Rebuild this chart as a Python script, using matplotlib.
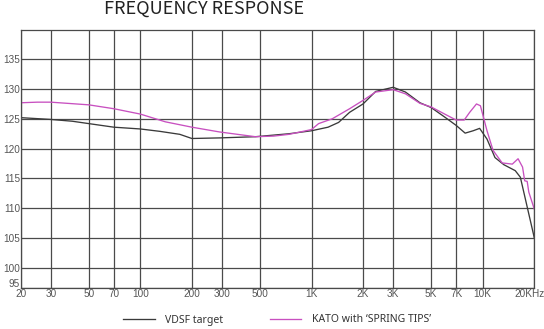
import matplotlib
matplotlib.use("Agg")
import matplotlib.pyplot as plt
from matplotlib.transforms import ScaledTranslation

# ---- data ----
vdsf_freq = [20, 30, 40, 50, 70, 100, 130, 170, 200, 290, 470, 740, 1000, 1250, 1440, 1670,
             2000, 2370, 3000, 3540, 4300, 5000, 6000, 7000, 7900, 8800, 9600, 10600,
             11800, 13300, 15500, 16600, 20000]
vdsf_db = [125.2, 124.9, 124.6, 124.2, 123.6, 123.3, 122.9, 122.4, 121.7, 121.8, 122.0, 122.5,
           123.0, 123.6, 124.4, 126.1, 127.5, 129.6, 130.3, 129.5, 127.7, 126.9, 125.3, 123.9,
           122.6, 123.0, 123.4, 121.6, 118.5, 117.3, 116.3, 115.2, 105.1]

kato_freq = [20, 25, 30, 50, 70, 100, 140, 200, 290, 470, 600, 740, 1000, 1100, 1320, 1670,
             2000, 2370, 3000, 3540, 4300, 5000, 6000, 7000, 7800, 8400, 9200, 9700, 10600,
             11500, 13000, 14900, 16100, 17100, 17600, 18200, 18600, 20000]
kato_db = [127.7, 127.8, 127.8, 127.35, 126.7, 125.8, 124.5, 123.6, 122.8, 122.0, 122.1, 122.4,
           123.2, 124.2, 125.0, 126.7, 128.1, 129.5, 129.9, 129.2, 127.6, 127.0, 125.8, 124.8,
           124.8, 126.1, 127.5, 127.2, 123.0, 119.7, 117.6, 117.4, 118.3, 116.9, 114.6, 114.5,
           112.7, 109.9]

x_ticks = [20, 30, 50, 70, 100, 200, 300, 500, 1000, 2000, 3000, 5000, 7000, 10000, 20000]
x_labels = ['20', '30', '50', '70', '100', '200', '300', '500', '1K', '2K', '3K', '5K', '7K',
            '10K', '20KHz']
y_grid = [100, 105, 110, 115, 120, 125, 130, 135]
y_labels = ['95', '100', '105', '110', '115', '120', '125', '130', '135']

title = 'FREQUENCY RESPONSE'
series_labels = ['VDSF target', 'KATO with \u2018SPRING TIPS\u2019']

# ---- style ----
grid_c = '#4a4a4a'
tick_c = '#555555'
black_c = '#3a3a3a'
pink_c = '#c850c0'
y_bottom, y_top = 96.6, 140

fig = plt.figure(figsize=(5.44, 3.29), dpi=100)
ax = fig.add_axes([20.7 / 544, 41 / 329, 513.5 / 544, 258.5 / 329])

ax.plot(vdsf_freq, vdsf_db, color=black_c, lw=0.95, label=series_labels[0])
ax.plot(kato_freq, kato_db, color=pink_c, lw=0.95, label=series_labels[1])

ax.set_xscale('log')
ax.set_xlim(20, 20000)
ax.set_ylim(y_bottom, y_top)
ax.set_xticks(x_ticks)
ax.set_xticklabels(x_labels)
ax.minorticks_off()
ax.set_yticks([y_bottom] + y_grid)
ax.set_yticklabels(y_labels)

ax.grid(True, color=grid_c, lw=0.9)
ax.set_axisbelow(True)
for s in ax.spines.values():
    s.set_color(grid_c)
    s.set_linewidth(0.9)
ax.tick_params(length=0, colors=tick_c, pad=1)
ax.tick_params(axis='y', pad=0.5)
for lab in ax.get_xticklabels() + ax.get_yticklabels():
    lab.set_family('Liberation Sans')
    lab.set_fontsize(7.2)

# lift the bottom "95" label above the x labels, and keep "20KHz" inside the figure
ylabs = ax.get_yticklabels()
ylabs[0].set_va('bottom')
ylabs[0].set_transform(ylabs[0].get_transform() + ScaledTranslation(0, -1 / 100, fig.dpi_scale_trans))
xlabs = ax.get_xticklabels()
xlabs[-1].set_transform(xlabs[-1].get_transform() + ScaledTranslation(-5 / 100, 0, fig.dpi_scale_trans))

fig.text(204 / 544, 1 - 8.5 / 329, title, ha='center', va='center',
         fontsize=13, family='Noto Sans CJK SC', color='#222222')

leg = fig.legend(loc='center', bbox_to_anchor=(277 / 544, 1 - 320 / 329), ncol=2,
                 frameon=False, handlelength=3.0, columnspacing=4.5, handletextpad=1.0,
                 prop={'family': 'Noto Sans', 'size': 7.5})
for t in leg.get_texts():
    t.set_color('#333333')

fig.savefig('out.png', dpi=100, facecolor='white')
